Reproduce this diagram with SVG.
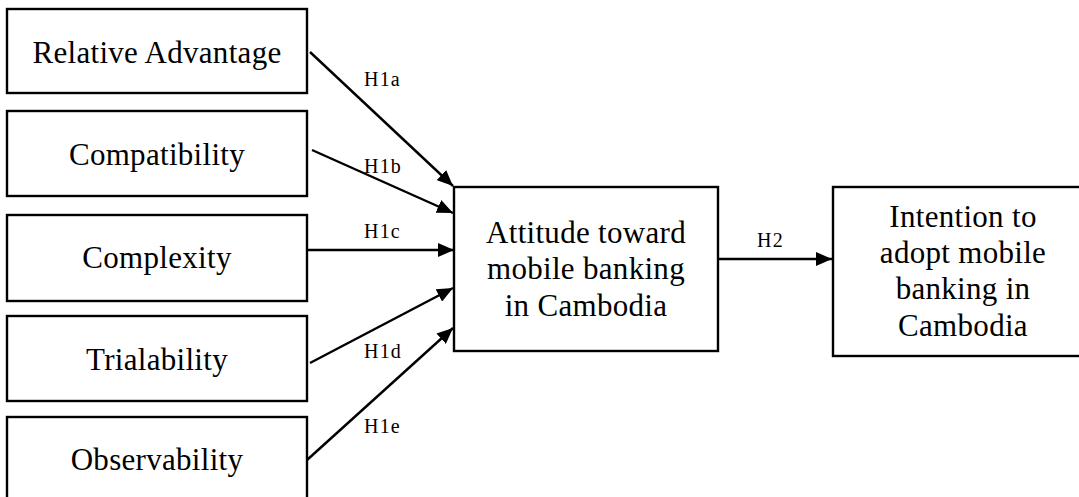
<svg xmlns="http://www.w3.org/2000/svg" width="1079" height="497" viewBox="0 0 1079 497">
  <style>
    .box { fill: #ffffff; stroke: #000000; stroke-width: 2.4; }
    .lbl { font-family: "Liberation Serif", "Times New Roman", serif; font-size: 31px; letter-spacing: 0.3px; fill: #000000; text-anchor: middle; }
    .hyp { font-family: "Liberation Serif", "Times New Roman", serif; font-size: 20px; letter-spacing: 1.2px; fill: #000000; }
    .edge { stroke: #000000; stroke-width: 2.4; fill: none; marker-end: url(#arrow); }
  </style>
  <defs>
    <marker id="arrow" markerUnits="userSpaceOnUse" markerWidth="17" markerHeight="14" refX="16" refY="7" orient="auto">
      <path d="M0,0 L16,7 L0,14 Z" fill="#000000"/>
    </marker>
  </defs>
  <rect width="1079" height="497" fill="#ffffff"/>

  <g id="relative-advantage">
    <rect class="box" x="7" y="9" width="300" height="84"/>
    <text class="lbl" x="157" y="63">Relative Advantage</text>
  </g>
  <g id="compatibility">
    <rect class="box" x="7" y="111" width="300" height="85"/>
    <text class="lbl" x="157" y="165">Compatibility</text>
  </g>
  <g id="complexity">
    <rect class="box" x="7" y="215" width="300" height="86"/>
    <text class="lbl" x="157" y="268">Complexity</text>
  </g>
  <g id="trialability">
    <rect class="box" x="7" y="316" width="300" height="85"/>
    <text class="lbl" x="157" y="370">Trialability</text>
  </g>
  <g id="observability">
    <rect class="box" x="7" y="417" width="300" height="95"/>
    <text class="lbl" x="157" y="470">Observability</text>
  </g>
  <g id="attitude">
    <rect class="box" x="454" y="187" width="264" height="164"/>
    <text class="lbl" x="586" y="243">Attitude toward</text>
    <text class="lbl" x="586" y="279">mobile banking</text>
    <text class="lbl" x="586" y="316">in Cambodia</text>
  </g>
  <g id="intention">
    <rect class="box" x="833" y="187" width="260" height="169"/>
    <text class="lbl" x="963" y="227">Intention to</text>
    <text class="lbl" x="963" y="263">adopt mobile</text>
    <text class="lbl" x="963" y="299">banking in</text>
    <text class="lbl" x="963" y="336">Cambodia</text>
  </g>

  <g id="connectors">
    <line class="edge" x1="310" y1="52" x2="453" y2="186"/>
    <line class="edge" x1="312" y1="150" x2="453" y2="213"/>
    <line class="edge" x1="307" y1="250" x2="454" y2="250"/>
    <line class="edge" x1="310" y1="363" x2="453" y2="288"/>
    <line class="edge" x1="307" y1="460" x2="453" y2="328"/>
    <line class="edge" x1="718" y1="259" x2="832" y2="259"/>
    <text class="hyp" x="364" y="86">H1a</text>
    <text class="hyp" x="364" y="173">H1b</text>
    <text class="hyp" x="364" y="238">H1c</text>
    <text class="hyp" x="364" y="358">H1d</text>
    <text class="hyp" x="364" y="433">H1e</text>
    <text class="hyp" x="757" y="247">H2</text>
  </g>
</svg>
